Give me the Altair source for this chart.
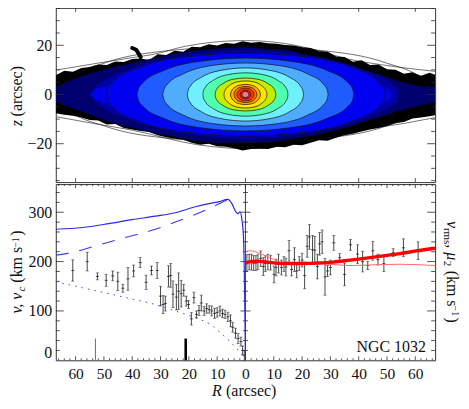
import altair as alt
import pandas as pd

FONT = "Liberation Serif"
INK = "#2a2a2a"
W, H1, H2 = 381, 175, 177
XDOM = [-67, 67]
ZDOM = [-35.6, 35.2]
VDOM = [0, 357]

# ---------- top panel: surface brightness ----------
black_x = [-67,-64,-61,-58,-55,-52,-49,-46,-43,-40,-37,-34,-31,-28,-25,-22,-19,-16,-13,-10,-7,-4,-1,2,5,8,11,14,17,20,23,26,29,32,35,38,41,44,47,50,53,56,59,62,65,67]
black_top = [7.8,9.6,9.2,10.8,11.2,12.2,12.0,13.4,13.2,14.4,14.6,14.0,16.4,16.0,17.8,17.4,19.4,19.2,20.4,19.9,20.9,20.6,21.6,21.0,21.3,20.8,20.6,20.1,19.9,19.2,18.9,17.6,17.5,15.4,15.2,13.3,13.9,12.0,12.2,10.3,10.1,8.4,9.0,7.6,8.8,8.0]
black_bot = [-7.6,-8.2,-8.6,-9.4,-10.4,-10.6,-12.2,-12.0,-13.6,-14.2,-14.8,-15.2,-16.6,-17.4,-18.0,-18.4,-19.6,-20.4,-20.0,-21.0,-21.2,-21.8,-22.8,-22.2,-22.0,-22.2,-21.2,-21.4,-20.4,-20.6,-19.6,-18.6,-18.8,-17.6,-16.6,-16.0,-15.0,-14.2,-13.6,-12.8,-11.6,-11.2,-9.8,-9.4,-8.8,-8.4]

navy_x = [-67,-60,-54,-47,-40,-33,-26,-17,-7,0,7,14,21,28,35,42,49,56,61,67]
navy_top = [3,6.5,8.8,11,12.8,14.6,16.4,18,18.9,19.2,18.6,18.2,16.2,14.8,12,9.8,7.4,4.8,3.5,3]
navy_bot = [-3.2,-6,-8.5,-11.5,-13.5,-15.5,-17,-18.9,-19.8,-19.8,-19.5,-18.5,-17.2,-15.5,-13.5,-11,-8.6,-6,-4.6,-3.2]

outer_top_x = [-67,-51.8,-38.8,-33,-21.2,-11.9,0,12.8,24.5,36.3,48,67]
outer_top_z = [9.9,12.8,15.2,16.2,19.6,21.2,21.9,20.9,18.2,14.4,12.1,9.4]
outer_bot_x = [-67,-54,-40,-16.5,0,18.7,36.3,56.2,67]
outer_bot_z = [-9,-11.7,-14.5,-20.5,-22,-19.9,-15.2,-11.7,-9.4]

spike_x = [-40,-38.6,-37]
spike_z = [18.9,18.2,15.2]

level_colors = ["#0000a8","#0000f0","#1e5cff","#50acff","#70f0ff","#50ffb0","#c4ec00","#ffe600","#ffac00","#ff7000","#ff3800","#e81818","#f08080"]
level_xs = [
    [54,53.5,51.3,40.5,21.6,0],
    [49.4,48.9,46.9,37,19.8,0],
    [38.3,37.9,36.4,28.7,15.3,0],
    [29.2,28.9,27.7,21.9,11.7,0],
    [20.5,20.3,19.5,15.4,8.2,0],
    [15,14.9,14.3,11.3,6,0],
    [10.7,10.6,10.2,8,4.3,0],
    [7.6,7.5,7.2,5.7,3,0],
    [5.3,5.2,5,4,2.1,0],
    [4,3.96,3.8,3,1.6,0],
    [3,2.97,2.85,2.25,1.2,0],
    [1.9,1.88,1.8,1.4,0.76,0],
    [1.2,1.19,1.14,0.9,0.48,0],
]
level_zs = [
    [0,2.5,4.6,10.5,15.8,18],
    [0,2.4,5.2,11.2,15.5,16.9],
    [0,2.1,4.6,9.8,13.6,14.8],
    [0,1.8,4,8.4,11.8,12.8],
    [0,1.5,3.3,7.1,9.9,10.8],
    [0,1.2,2.7,5.8,8.1,8.8],
    [0,0.9,2.1,4.4,6.2,6.7],
    [0,0.8,1.7,3.6,5.1,5.5],
    [0,0.6,1.3,2.7,3.8,4.1],
    [0,0.5,1,2.2,3,3.3],
    [0,0.4,0.8,1.7,2.4,2.6],
    [0,0.25,0.56,1.2,1.66,1.8],
    [0,0.17,0.37,0.8,1.1,1.2],
]
faint_x = [66,65.3,62.7,49.5,26.4,0]
faint_z = [0,2.7,6,12.9,17.9,19.5]

bumps = [
    ("#0000f0",[-55,-52,-48],[0,2.6,3.4]),
    ("#0000f0",[48,50,52],[3.4,2.4,0]),
    ("#1e5cff",[-42,-40,-37.5],[0,2.2,2.8]),
    ("#1e5cff",[37.5,39,40.5],[2.4,1.6,0]),
    ("#50acff",[-31.5,-30,-28.5],[0,2.4,2.8]),
    ("#50acff",[28.5,30,31],[2,1.4,0]),
]

# ---------- bottom panel, left ----------
v_r = [61,55.9,52.3,49.2,46.9,45.1,43.3,41.5,39.5,37.2,35.1,33.2,31.2,30,29.1,28.3,27.2,26.4,25.6,24.4,23.6,22.7,21.8,20.9,20.1,19.1,18.2,17.3,16.4,15.6,14.6,13.7,12.8,11.9,10.9,10,9,8.1,7.2,6.2,5.3,4.5,3.5,2.6,1.6,1,0.4]
v_val = [182,200,170,162,171,160,146,165,181,198,158,182,182,130,113,115,170,172,134,128,140,135,142,120,113,84,127,93,101,116,100,105,103,100,95,97,100,95,93,88,80,67,55,44,38,20,10]
v_err = [21.6,19,7,12,10,18.5,8,23,12,10,14.5,9,16,20,18,15,21.6,24,27,26,37,27,12,10,8,12.5,11,7,10,16,9,9.5,7.5,10,10,9.5,10,8.5,8.5,9.5,12,10,10,10,9,9,10]

vc_r = [-67,-57.6,-48.2,-40,-31.8,-24.8,-17.7,-14.2,-9.5,-6.2,-4.8,-3.4,-2.7,-1.9,-1.3,-0.7,-0.35,0]
vc_v = [265.5,269,277,285,292,299,311,316,321,326,317.5,301,297,301,287,250,162,7]
dash_r = [-67,-61.7,-54,-43.5,-33,-24.8,-14.2,-6.2]
dash_v = [213,218,230,247,263.5,280,304,326]
dot_r = [-67,-57.6,-48.2,-40,-31.8,-24.8,-17.7,-11.9,-7.2,-3.6,0]
dot_v = [159,147,135,124,113,100,86,71,47,27,3]

bar_thin_r = [-53]
bar_thick_r = [-21.1]
bar_top = [44]

# ---------- bottom panel, right ----------
rms_r = [0.5,1.3,2.1,2.9,3.7,4.4,5.4,6.3,7,7.9,8.9,10.1,10.8,11.7,12.7,13.6,14.3,15.4,16.3,17.3,18.1,19,20,20.9,21.8,22.6,23.7,24.5,25.4,26.2,27.1,28.1,29,30,31.2,33.3,35,37.1,39.6,41.4,43.2,45,46.8,48.9,52.2,55.8,61]
rms_v = [197,199,199,197,197,199,206,190,196,199,198,174,188,196,188,195,189,222,184,204,181,196,203,172,231,250,224,223,190,236,240,169,181,188,238,208,174,234,215,200,192,222,204,196,218,228,222]
rms_e = [17,16,16,15,15,15,15.5,18,16,16,15,17,17,19,15,15,18,21,13,24,14,14,14,27,22,25,29,28,25,23,24,37,11,15,15,8,23,11,19,21,8,19,11,16,8,18,18]

red_r = [0,1.6,4,7.5,13.4,19.2,25,31,36.9,42.7,48.6,54.5,60.3,67]
red_v = [197,200,201,199,196,196,197,199,203,207,211.5,216,221.6,227]
thin_r = [0,1.6,3.4,6.3,9.9,13.4,19.2,25,31,36.9,42.7,54.5,67]
thin_v = [219.6,222,220,213.5,204.7,197,196,196,194,192,193,194.6,192]

# ---------- ticks ----------
x_major_top = [-60,-40,-20,0,20,40,60]
z_major = [-20,0,20]
z_minor = [-35,-30,-25,-15,-10,-5,5,10,15,25,30,35]
r_major = [-60,-50,-40,-30,-20,-10,0,10,20,30,40,50,60]
r_minor = [r for r in range(-66,67,2) if r % 10 != 0]
v_major = [100,200,300]
v_minor = [20,40,60,80,120,140,160,180,220,240,260,280,320,340]

xs = alt.Scale(domain=XDOM, nice=False, zero=False)
zs = alt.Scale(domain=ZDOM, nice=False, zero=False)
vs = alt.Scale(domain=VDOM, nice=False, zero=False)

def vticks(vals, x0, x1, scale):
    df = pd.DataFrame({"t": vals})
    return alt.Chart(df).mark_rule(color=INK, strokeWidth=0.8).encode(
        y=alt.Y("t:Q", scale=scale, axis=None), x=alt.value(x0), x2=alt.value(x1))

def hticks(vals, y0, y1):
    df = pd.DataFrame({"t": vals})
    return alt.Chart(df).mark_rule(color=INK, strokeWidth=0.8).encode(
        x=alt.X("t:Q", scale=xs, axis=None), y=alt.value(y0), y2=alt.value(y1))

def label(text, x, y, size=16, angle=0, style="normal"):
    return alt.Chart(pd.DataFrame({"a": [0]})).mark_text(
        text=text, font=FONT, fontSize=size, fontStyle=style, angle=angle,
        align="left", baseline="alphabetic", color="#111", clip=False
    ).encode(x=alt.value(x), y=alt.value(y))

def area(x, top, bot, color, interp="monotone"):
    df = pd.DataFrame({"x": x, "t": top, "b": bot})
    return alt.Chart(df).mark_area(color=color, interpolate=interp, clip=True).encode(
        x=alt.X("x:Q", scale=xs, axis=None), y=alt.Y("t:Q", scale=zs, axis=None), y2="b:Q")

def ring(hx, hz, width=0.7):
    x = [-v for v in hx] + hx[-2::-1]
    t = hz + hz[-2::-1]
    df = pd.DataFrame({"x": x, "t": t, "b": [-v for v in t]})
    return alt.Chart(df).mark_area(fillOpacity=0, stroke="#111", strokeWidth=width, interpolate="monotone", clip=True).encode(
        x=alt.X("x:Q", scale=xs, axis=None), y=alt.Y("t:Q", scale=zs, axis=None), y2="b:Q")

def curve(x, y, scale, color, width=1, dash=None, interp="monotone", cap="butt"):
    df = pd.DataFrame({"x": x, "y": y})
    kw = {"strokeDash": dash} if dash else {}
    return alt.Chart(df).mark_line(color=color, strokeWidth=width, interpolate=interp, clip=True,
                                   strokeCap=cap, **kw).encode(
        x=alt.X("x:Q", scale=xs, axis=None), y=alt.Y("y:Q", scale=scale, axis=None))

# ---------- build top ----------
top_axis = alt.Chart(pd.DataFrame({"z": z_major})).mark_rule(opacity=0).encode(
    y=alt.Y("z:Q", scale=zs, axis=alt.Axis(values=z_major, ticks=False, domain=False, grid=False, title=None,
            labelFont=FONT, labelFontSize=16, labelColor="#111", labelPadding=4)))

top_layers = [top_axis,
              curve(outer_top_x, outer_top_z, zs, "#666", 0.9),
              curve(outer_bot_x, outer_bot_z, zs, "#666", 0.9),
              area(black_x, black_top, black_bot, "#000000", "linear"),
              area(navy_x, navy_top, navy_bot, "#00006e")]
for i, c in enumerate(level_colors):
    hx, hz = level_xs[i], level_zs[i]
    x = [-v for v in hx] + hx[-2::-1]
    t = hz + hz[-2::-1]
    top_layers.append(area(x, t, [-v for v in t], c))
    if i == 0:
        for cc, bx, bz in bumps:
            top_layers.append(area(bx, bz, [-v for v in bz], cc))
top_layers.append(ring(faint_x, faint_z, 0.6))
for i in range(1, len(level_xs)):
    top_layers.append(ring(level_xs[i], level_zs[i]))
top_layers += [
    curve(spike_x, spike_z, zs, "#000", 4, interp="linear", cap="round"),
    vticks(z_major, 0, 8, zs), vticks(z_major, W-8, W, zs),
    vticks(z_minor, 0, 4, zs), vticks(z_minor, W-4, W, zs),
    hticks(x_major_top, 0, 4), hticks(x_major_top, H1-4, H1),
    label("z", -33.5, 119, style="italic", angle=270),
    label("(arcsec)", -33.5, 109, angle=270),
]
top = alt.layer(*top_layers).resolve_scale(x="shared", y="shared").resolve_axis(x="independent", y="independent").properties(width=W, height=H1)

# ---------- build bottom ----------
bot_axis = alt.Chart(pd.DataFrame({"r": r_major, "v": [300]*len(r_major)})).mark_rule(opacity=0).encode(
    x=alt.X("r:Q", scale=xs, axis=alt.Axis(values=r_major, ticks=False, domain=False, grid=False, title=None,
            labelExpr="abs(datum.value)", labelOverlap=False, labelFont=FONT, labelFontSize=15.5,
            labelColor="#111", labelPadding=6)),
    y=alt.Y("v:Q", scale=vs, axis=alt.Axis(values=[0,100,200,300], ticks=False, domain=False, grid=False, title=None,
            labelFlush=True, labelFont=FONT, labelFontSize=16, labelColor="#111", labelPadding=4)))

def errorbars(r, val, err):
    df = pd.DataFrame({"r": r, "v": val, "lo": [a-b for a, b in zip(val, err)], "hi": [a+b for a, b in zip(val, err)]})
    base = alt.Chart(df)
    X = alt.X("r:Q", scale=xs, axis=None)
    return [
        base.mark_rule(color="#333", strokeWidth=0.9, clip=True).encode(x=X, y=alt.Y("lo:Q", scale=vs, axis=None), y2="hi:Q"),
        base.mark_tick(color="#333", size=3, thickness=0.8, orient="horizontal").encode(x=X, y=alt.Y("lo:Q", scale=vs, axis=None)),
        base.mark_tick(color="#333", size=3, thickness=0.8, orient="horizontal").encode(x=X, y=alt.Y("hi:Q", scale=vs, axis=None)),
        base.mark_tick(color="#111", size=3, thickness=1, orient="horizontal").encode(x=X, y=alt.Y("v:Q", scale=vs, axis=None)),
    ]

def bar(r, w, color):
    df = pd.DataFrame({"r": r, "a": [0], "b": bar_top})
    return alt.Chart(df).mark_rule(color=color, strokeWidth=w).encode(
        x=alt.X("r:Q", scale=xs, axis=None), y=alt.Y("a:Q", scale=vs, axis=None), y2="b:Q")

center = alt.Chart(pd.DataFrame({"r": [0], "a": VDOM[:1], "b": VDOM[1:]})).mark_rule(color=INK, strokeWidth=0.9).encode(
    x=alt.X("r:Q", scale=xs, axis=None), y=alt.Y("a:Q", scale=vs, axis=None), y2="b:Q")

X0 = W / 2
bot_layers = [bot_axis, center,
    vticks(v_major, X0-5, X0+5, vs), vticks(v_minor, X0-2.5, X0+2.5, vs),
    vticks(v_major, 0, 8, vs), vticks(v_major, W-8, W, vs),
    vticks(v_minor, 0, 4, vs), vticks(v_minor, W-4, W, vs),
    hticks(r_major, 0, 4), hticks(r_major, H2-4, H2),
    hticks(r_minor, 0, 2), hticks(r_minor, H2-2, H2),
    bar(bar_thin_r, 0.8, "#444"), bar(bar_thick_r, 2.6, "#000"),
]
bot_layers += errorbars([-a for a in v_r], v_val, v_err)
bot_layers += errorbars(rms_r, rms_v, rms_e)
bot_layers += [
    curve(dot_r, dot_v, vs, "#4a4af0", 1, dash=[1.6, 5]),
    curve(dash_r, dash_v, vs, "#3a3ae8", 1.1, dash=[13, 11]),
    curve(vc_r, vc_v, vs, "#2a2ae6", 1.2),
    curve(thin_r, thin_v, vs, "#ff6a6a", 1),
    curve(red_r, red_v, vs, "#ff0000", 3.4),
    label("NGC 1032", 302, 169, size=16),
    label("R", 157, 213, style="italic"),
    label("(arcsec)", 171, 213),
    label("v, v", -33.5, 130, style="italic", angle=270),
    label("c", -30.5, 108, size=11, style="italic", angle=270),
    label("(km s", -33.5, 99, angle=270),
    label("\u22121", -37, 64, size=10, angle=270),
    label(")", -33.5, 52, angle=270),
    label("v", 393, 37, style="italic", angle=90),
    label("rms", 390, 44, size=11, angle=90),
    label(",", 393, 60.5, angle=90),
    label("\u03bc", 393, 68.5, style="italic", angle=90),
    label("2", 390, 77, size=11, angle=90),
    label("(km s", 393, 87, angle=90),
    label("\u22121", 398, 122, size=10, angle=90),
    label(")", 393, 134, angle=90),
]
bottom = alt.layer(*bot_layers).resolve_scale(x="shared", y="shared").resolve_axis(x="independent", y="independent").properties(width=W, height=H2)

chart = alt.vconcat(top, bottom, spacing=0, padding={"left": 1, "top": -2, "right": 0, "bottom": 0}, background="white").configure_view(
    stroke="#333", strokeWidth=1)

chart.save("out.html", embed_options={"renderer": "svg", "actions": False})
